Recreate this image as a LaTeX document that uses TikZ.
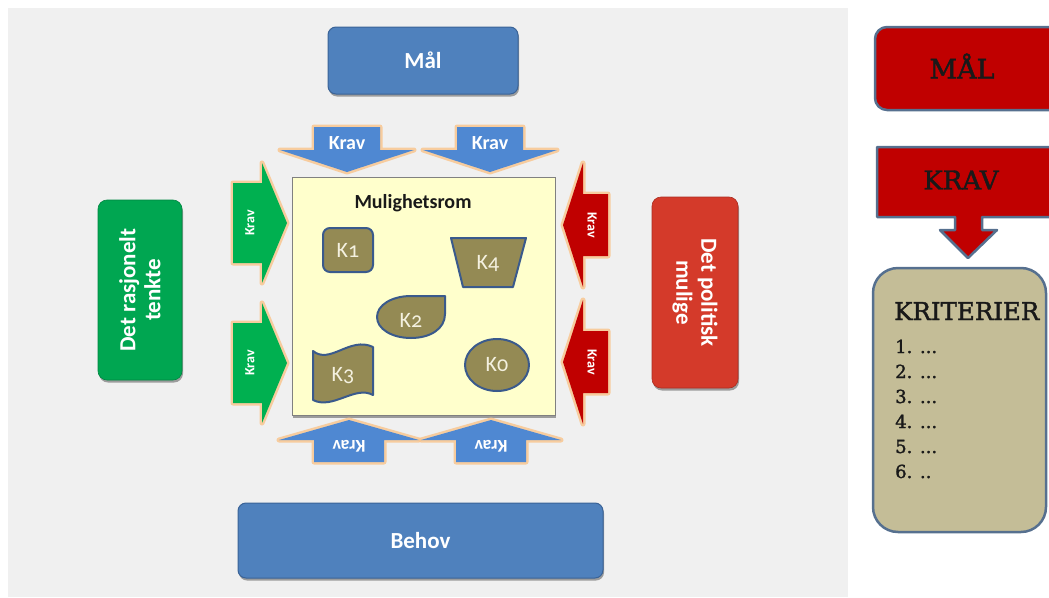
\documentclass[tikz,border=0pt]{standalone}
\usepackage{fontspec}
\setmainfont{Carlito}
\newfontfamily\slabfont[FakeBold=1.6]{DejaVu Serif}
\newfontfamily\konum[Numbers=OldStyle]{Carlito}
\usetikzlibrary{shadows,shapes.geometric}
\definecolor{bgray}{HTML}{F0F0F0}
\definecolor{boxblue}{HTML}{4F81BD}
\definecolor{boxblueD}{HTML}{3A6397}
\definecolor{arrblue}{HTML}{4F88D2}
\definecolor{glowc}{HTML}{F9C690}
\definecolor{ylw}{HTML}{FFFFCC}
\definecolor{kfill}{HTML}{948A54}
\definecolor{kline}{HTML}{3A5A8C}
\definecolor{kgreen}{HTML}{00A651}
\definecolor{agreen}{HTML}{00B050}
\definecolor{ared}{HTML}{C00000}
\definecolor{kred}{HTML}{D43A2A}
\definecolor{rline}{HTML}{56708F}
\definecolor{kritfill}{HTML}{C4BD97}
\definecolor{ktext}{HTML}{F4F1E0}
\newcommand{\klab}[1]{K{\konum #1}}
\tikzset{
  shad/.style={drop shadow={shadow xshift=1pt,shadow yshift=-2.5pt,opacity=.35,fill=black}},
  bluebox/.style={rounded corners=8pt,fill=boxblue,draw=boxblueD,line width=1pt,shad,
    text=white,font=\fontsize{23}{27}\selectfont\bfseries},
  glowarrow/.style={preaction={draw=glowc,line width=5pt,line join=round,draw opacity=.85},line join=round},
  bluearrow/.style={glowarrow,fill=arrblue},
  greenarrow/.style={glowarrow,fill=agreen},
  redarrow/.style={glowarrow,fill=ared},
  kravtxt/.style={text=white,font=\fontsize{20}{23}\selectfont\bfseries,inner sep=0pt},
  kravsmall/.style={text=white,font=\fontsize{14}{16}\selectfont\bfseries,inner sep=0pt},
  kshape/.style={fill=kfill,draw=kline,line width=2pt,line join=round},
  klabel/.style={text=ktext,font=\fontsize{22}{25}\selectfont,inner sep=0pt},
  sidetxt/.style={text=white,font=\fontsize{23}{25}\selectfont\bfseries,align=center,inner sep=0pt},
  redbox/.style={fill=ared,draw=rline,line width=2.5pt,line join=round},
  slabtxt/.style={text=black!90,inner sep=0pt}
}
\begin{document}
\begin{tikzpicture}[x=1pt,y=-1pt]
\useasboundingbox (0,0) rectangle (1049,597);
\clip (0,0) rectangle (1049,597);
\fill[bgray] (8,8) rectangle (848,597);

% blue boxes
\node[bluebox,minimum width=190pt,minimum height=67pt] (mal) at (423,60.5) {Mål};
\node[bluebox,minimum width=365pt,minimum height=75pt] (behov) at (420.5,540.5) {Behov};

% yellow option space
\node[fill=ylw,draw=black!50,line width=0.8pt,shad,minimum width=263pt,minimum height=238pt] (rom) at (423.5,296) {};
\node[font=\fontsize{20}{23}\selectfont\bfseries,text=black!90,inner sep=0pt] (romtxt) at (413,203) {Mulighetsrom};

% top arrows
\path[bluearrow] (314,127) -- (380,127) -- (380,150) -- (414,150) -- (347,172) -- (280,150) -- (314,150) -- cycle;
\path[bluearrow] (457,127) -- (523,127) -- (523,150) -- (557,150) -- (490,172) -- (423,150) -- (457,150) -- cycle;
\node[kravtxt] (kt1) at (347,143) {Krav};
\node[kravtxt] (kt2) at (490,143) {Krav};

% bottom arrows
\path[bluearrow] (314,462) -- (384,462) -- (384,440) -- (419,440) -- (349,420) -- (279,440) -- (314,440) -- cycle;
\path[bluearrow] (456,462) -- (526,462) -- (526,440) -- (561,440) -- (491,420) -- (421,440) -- (456,440) -- cycle;
\node[kravtxt,font=\fontsize{18}{20}\selectfont\bfseries,rotate=180] (kb1) at (349,446) {Krav};
\node[kravtxt,font=\fontsize{18}{20}\selectfont\bfseries,rotate=180] (kb2) at (491,446) {Krav};

% left green arrows
\path[greenarrow] (233,183) -- (262,183) -- (262,163) -- (287,223) -- (262,283) -- (262,263) -- (233,263) -- cycle;
\path[greenarrow] (233,323) -- (262,323) -- (262,303) -- (287,363) -- (262,423) -- (262,403) -- (233,403) -- cycle;
\node[kravsmall,rotate=90] (kl1) at (250,223) {Krav};
\node[kravsmall,rotate=90] (kl2) at (250,363) {Krav};

% right red arrows
\path[redarrow] (608,194) -- (583,194) -- (583,163) -- (563,225) -- (583,287) -- (583,256) -- (608,256) -- cycle;
\path[redarrow] (608,331) -- (583,331) -- (583,300) -- (563,362) -- (583,424) -- (583,393) -- (608,393) -- cycle;
\node[kravsmall,rotate=-90] (kr1) at (592,225) {Krav};
\node[kravsmall,rotate=-90] (kr2) at (592,362) {Krav};

% side boxes
\node[fill=kgreen,draw=kgreen!80!black,line width=0.6pt,rounded corners=9pt,shad,minimum width=84pt,minimum height=180pt] (rasj) at (140,290) {};
\node[sidetxt,rotate=90] (rasjtxt) at (rasj.center) {Det rasjonelt\\tenkte};
\node[fill=kred,draw=kred!80!black,line width=0.6pt,rounded corners=9pt,shad,minimum width=86pt,minimum height=191pt] (pol) at (695,292.5) {};
\node[sidetxt,rotate=-90] (poltxt) at (pol.center) {Det politisk\\mulige};

% K shapes
\node[kshape,rounded corners=7pt,minimum width=50pt,minimum height=44pt] (k1) at (348,250) {};
\node[klabel] (k1t) at (k1.center) {\klab{1}};
\path[kshape] (451,238) -- (526,238) -- (513,287) -- (463,287) -- cycle;
\node[klabel] (k4t) at (488,263) {\klab{4}};
\path[kshape] (377,317) .. controls (377,305) and (392,296) .. (411,296) -- (445,296) -- (445,314)
  .. controls (445,329) and (430,338) .. (411,338) .. controls (392,338) and (377,329) .. (377,317) -- cycle;
\node[klabel] (k2t) at (411,320) {\klab{2}};
\path[kshape] (313,351) .. controls (330,365) and (350,336) .. (373,347) -- (373,395)
  .. controls (355,385) and (333,410) .. (313,400) -- cycle;
\node[klabel] (k3t) at (343,376) {\klab{3}};
\node[kshape,ellipse,minimum width=64pt,minimum height=52pt] (k0) at (497,365) {};
\node[klabel] (k0t) at (k0.center) {\klab{0}};

% right panel
\path[redbox,rounded corners=12pt] (875,27) rectangle (1062,110);
\node[slabtxt,font=\slabfont\fontsize{27}{30}\selectfont] (maal) at (962,66) {MÅL};
\path[redbox] (877,147) -- (1062,147) -- (1062,217) -- (982,217) -- (982,230) -- (997,230) -- (968,258)
  -- (940,230) -- (955,230) -- (955,217) -- (877,217) -- cycle;
\node[slabtxt,font=\slabfont\fontsize{26}{30}\selectfont] (krav) at (961,180) {KRAV};
\path[fill=kritfill,draw=rline,line width=2.5pt,rounded corners=25pt] (873,268) rectangle (1046,532);
\node[slabtxt,anchor=base west,font=\slabfont\fontsize{24.5}{28}\selectfont] (krit) at (894,320) {KRITERIER};
\node[slabtxt,anchor=base west,font=\slabfont\fontsize{18}{20}\selectfont] (i1) at (895,353) {1. ...};
\node[slabtxt,anchor=base west,font=\slabfont\fontsize{18}{20}\selectfont] (i2) at (895,378) {2. ...};
\node[slabtxt,anchor=base west,font=\slabfont\fontsize{18}{20}\selectfont] (i3) at (895,403) {3. ...};
\node[slabtxt,anchor=base west,font=\slabfont\fontsize{18}{20}\selectfont] (i4) at (895,428) {4. ...};
\node[slabtxt,anchor=base west,font=\slabfont\fontsize{18}{20}\selectfont] (i5) at (895,453) {5. ...};
\node[slabtxt,anchor=base west,font=\slabfont\fontsize{18}{20}\selectfont] (i6) at (895,478) {6. ..};
\end{tikzpicture}
\end{document}
